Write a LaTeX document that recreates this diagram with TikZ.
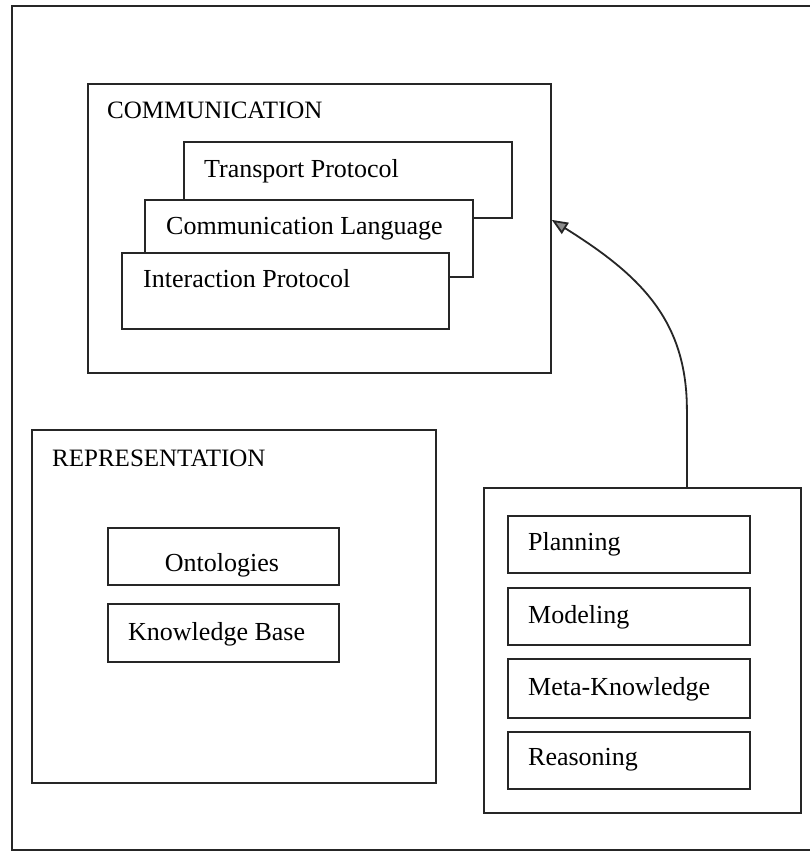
\documentclass[tikz,border=0pt]{standalone}
\usepackage{fontspec}
\setmainfont{Liberation Serif}
\usetikzlibrary{arrows.meta}
\begin{document}
\begin{tikzpicture}[x=1pt,y=-1pt,
  frameline/.style={line width=1.8pt, draw=black!85},
  box/.style={frameline, fill=white, rectangle, inner sep=0pt, anchor=north west},
  lbl/.style={inner sep=0pt, anchor=base west, font=\fontsize{26}{30}\selectfont},
  head/.style={inner sep=0pt, anchor=base west, font=\fontsize{25}{30}\selectfont},
]
\useasboundingbox[fill=white] (0,0) rectangle (810,852);
% outer frame, open on the right
\draw[frameline] (810,6) -- (12,6) -- (12,850) -- (810,850);

% communication layers
\node[box, minimum width=463pt, minimum height=289pt] (comm) at (87,83) {};
\node[head] (commt) at (107,118) {COMMUNICATION};
\node[box, minimum width=328pt, minimum height=76pt] (tp) at (183,141) {};
\node[lbl] (tpt) at (204,177) {Transport Protocol};
\node[box, minimum width=328pt, minimum height=77pt] (cl) at (144,199) {};
\node[lbl] (clt) at (166,234) {Communication Language};
\node[box, minimum width=327pt, minimum height=76pt] (ip) at (121,252) {};
\node[lbl] (ipt) at (143,287) {Interaction Protocol};

% representation
\node[box, minimum width=404pt, minimum height=353pt] (rep) at (31,429) {};
\node[head] (rept) at (52,466) {REPRESENTATION};
\node[box, minimum width=231pt, minimum height=57pt] (ont) at (107,527) {};
\node[lbl, anchor=base] (ontt) at (222,571) {Ontologies};
\node[box, minimum width=231pt, minimum height=58pt] (kb) at (107,603) {};
\node[lbl] (kbt) at (128,640) {Knowledge Base};

% reasoning components
\node[box, minimum width=317pt, minimum height=325pt] (rb) at (483,487) {};
\node[box, minimum width=242pt, minimum height=57pt] (pl) at (507,515) {};
\node[lbl] (plt) at (528,550) {Planning};
\node[box, minimum width=242pt, minimum height=57pt] (md) at (507,587) {};
\node[lbl] (mdt) at (528,623) {Modeling};
\node[box, minimum width=242pt, minimum height=59pt] (mk) at (507,658) {};
\node[lbl] (mkt) at (528,695) {Meta-Knowledge};
\node[box, minimum width=242pt, minimum height=57pt] (rs) at (507,731) {};
\node[lbl] (rst) at (528,765) {Reasoning};

% connector
\coordinate (src) at ([xshift=44.5pt]rb.north);
\coordinate (dst) at ([yshift=8.5pt]comm.east);
\draw[frameline, -{Triangle[length=16pt,width=13pt,fill=black!45]}]
  (src) -- ++(0,-77) .. controls ++(0,-90) and (640,275) .. (dst);
\end{tikzpicture}
\end{document}
